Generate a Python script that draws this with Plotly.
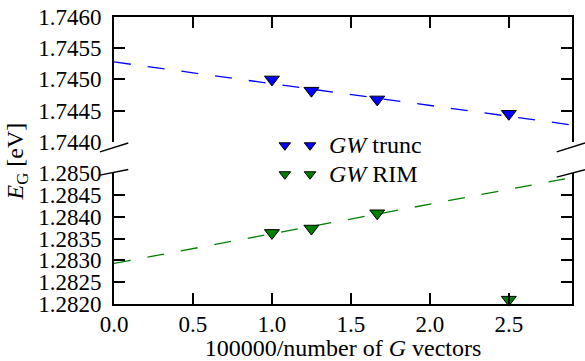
import plotly.graph_objects as go

# ---- data ----
x_vals = [1.0, 1.25, 1.6667, 2.5]
trunc_vals = [1.74500, 1.74482, 1.74468, 1.74445]
rim_vals = [1.28363, 1.28373, 1.28408, 1.28210]

fit_x = [0.0, 2.9]
fit_trunc = [1.74528, 1.74427]
fit_rim = [1.28293, 1.28490]

x_ticks = [0.0, 0.5, 1.0, 1.5, 2.0, 2.5]
top_ticks = [1.7440, 1.7445, 1.7450, 1.7455, 1.7460]
bot_ticks = [1.2820, 1.2825, 1.2830, 1.2835, 1.2840, 1.2845, 1.2850]

legend_names = ["<i>GW</i> trunc", "<i>GW</i> RIM"]
legend_marker_x = [0.373, 0.428]
legend_row_y = [0.553, 0.452]

BLUE = "#0000ff"
GREEN = "#008000"
FONT = "Liberation Serif"
FS = 24
TFS = 23

fig = go.Figure()

# top panel (GW trunc)
fig.add_trace(go.Scatter(x=fit_x, y=fit_trunc, mode="lines", xaxis="x2", yaxis="y2",
                         line=dict(color=BLUE, width=1.3, dash="17px,17px"), showlegend=False))
fig.add_trace(go.Scatter(x=x_vals, y=trunc_vals, mode="markers", xaxis="x2", yaxis="y2",
                         marker=dict(symbol="triangle-down", size=13, color=BLUE,
                                     line=dict(color="black", width=1)),
                         showlegend=False, cliponaxis=False))
# bottom panel (GW RIM)
fig.add_trace(go.Scatter(x=fit_x, y=fit_rim, mode="lines", xaxis="x", yaxis="y",
                         line=dict(color=GREEN, width=1.3, dash="17px,17px"), showlegend=False))
fig.add_trace(go.Scatter(x=x_vals, y=rim_vals, mode="markers", xaxis="x", yaxis="y",
                         marker=dict(symbol="triangle-down", size=13, color=GREEN,
                                     line=dict(color="black", width=1)),
                         showlegend=False, cliponaxis=False))

# custom legend (two markers per entry) on a hidden full-size axis
for name, yy, col in zip(legend_names, legend_row_y, [BLUE, GREEN]):
    fig.add_trace(go.Scatter(x=legend_marker_x, y=[yy, yy], mode="markers", xaxis="x3", yaxis="y3",
                             marker=dict(symbol="triangle-down", size=10, color=col,
                                         line=dict(color="black", width=1)),
                             showlegend=False, cliponaxis=False, hoverinfo="skip"))
    fig.add_annotation(x=0.466, y=yy, xref="paper", yref="paper", text=name, showarrow=False,
                       xanchor="left", yanchor="middle",
                       font=dict(family=FONT, size=FS, color="black"))

axis_common = dict(showline=True, linecolor="black", linewidth=2, ticks="inside",
                   tickcolor="black", tickwidth=1.5, ticklen=11, showgrid=False,
                   zeroline=False, automargin=False,
                   tickfont=dict(family=FONT, size=TFS, color="black"))

fig.update_layout(
    template="none",
    width=585, height=361,
    margin=dict(l=114, r=13, t=17, b=57),
    paper_bgcolor="white", plot_bgcolor="rgba(0,0,0,0)",
    xaxis=dict(domain=[0, 1], anchor="y", range=[0, 2.9], tickvals=x_ticks,
               tickformat=".1f", mirror=False, ticklabelstandoff=-2,
               title=dict(text="100000/number of <i>G</i> vectors",
                          font=dict(family=FONT, size=FS, color="black"), standoff=0),
               **axis_common),
    yaxis=dict(domain=[0, 0.456], anchor="x", range=[1.2820, 1.2850], tickvals=bot_ticks,
               tickformat=".4f", mirror="ticks", ticklabelstandoff=6, **axis_common),
    xaxis2=dict(domain=[0, 1], anchor="y2", range=[0, 2.9], tickvals=x_ticks, side="top",
                matches="x", showticklabels=False, mirror=False, **axis_common),
    yaxis2=dict(domain=[0.565, 1], anchor="x2", range=[1.7440, 1.7460], tickvals=top_ticks,
                tickformat=".4f", mirror="ticks", ticklabelstandoff=6, **axis_common),
    xaxis3=dict(domain=[0, 1], range=[0, 1], visible=False, anchor="y3", automargin=False),
    yaxis3=dict(domain=[0, 1], range=[0, 1], visible=False, anchor="x3", automargin=False),
    showlegend=False,
)

# y axis title
fig.add_annotation(x=-0.211, y=0.498, xref="paper", yref="paper",
                   text="<i>E</i><sub>G</sub> [eV]", showarrow=False, textangle=-90,
                   xanchor="center", yanchor="middle",
                   font=dict(family=FONT, size=FS, color="black"))

# axis break marks
breaks = [
    (-0.0306, 0.530, 0.0312, 0.561),
    (-0.0306, 0.449, 0.0312, 0.469),
    (0.9666, 0.530, 1.0284, 0.561),
    (0.9666, 0.442, 1.0284, 0.468),
]
for x0, y0, x1, y1 in breaks:
    fig.add_shape(type="line", xref="paper", yref="paper", x0=x0, y0=y0, x1=x1, y1=y1,
                  line=dict(color="black", width=1.5))

fig.write_html("out.html", config={"displayModeBar": False},
               post_script="document.body.style.margin='0';")
